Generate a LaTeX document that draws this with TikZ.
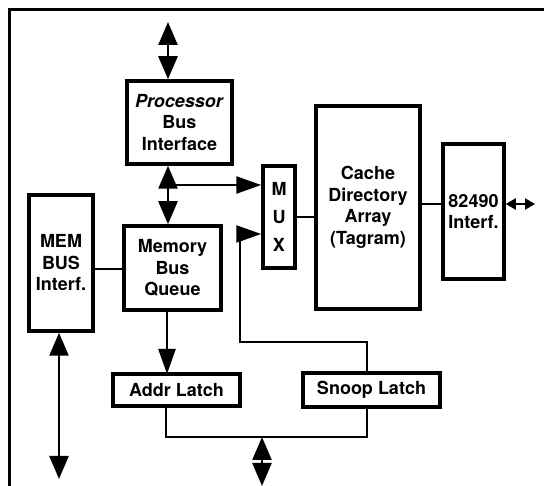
\documentclass[tikz,border=0pt]{standalone}
\usepackage{fontspec}
\setmainfont{TeX Gyre Heros}
\usetikzlibrary{arrows.meta}

\begin{document}
\begin{tikzpicture}[x=1pt,y=-1pt,
	block/.style={draw,line width=3.5pt,inner sep=0pt,align=center,
		font=\fontsize{18}{21.5}\selectfont\bfseries},
	wire/.style={line width=2.4pt},
	bigtips/.style={wire,{Triangle[length=23pt,width=19pt]}-{Triangle[length=23pt,width=19pt]}},
	bigtip/.style={wire,-{Triangle[length=25pt,width=17pt]}},
	smalltips/.style={wire,{Triangle[length=10pt,width=11pt]}-{Triangle[length=10pt,width=11pt]}}]
	\useasboundingbox (0,0) rectangle (544,486);
	% frame
	\draw [line width=3pt] (9,486) -- (9,10) -- (544,10);
	% blocks
	\node [block,minimum width=105pt,minimum height=83pt] (pbi) at (179.5,122.5)
		{\textit{Processor}\\Bus\\Interface};
	\node [block,minimum width=32pt,minimum height=102pt,
		font=\fontsize{18}{28}\selectfont\bfseries] (mux) at (279,217) {M\\U\\X};
	\node [block,minimum width=104pt,minimum height=203pt] (cda) at (368,207.5)
		{Cache\\Directory\\Array\\(Tagram)};
	\node [block,minimum width=61pt,minimum height=135pt] (ifc) at (473.5,211.5)
		{82490\\Interf.};
	\node [block,minimum width=64pt,minimum height=136pt] (mbi) at (61,263)
		{MEM\\BUS\\Interf.};
	\node [block,minimum width=97pt,minimum height=84pt] (mbq) at (172.5,268)
		{Memory\\Bus\\Queue};
	\node [block,minimum width=127pt,minimum height=32pt] (addr) at (176.5,390)
		{Addr Latch};
	\node [block,minimum width=137pt,minimum height=34pt] (snoop) at (371.5,390)
		{Snoop Latch};
	% connection points
	\coordinate (ptop) at (168,22);
	\coordinate (br) at (168,185);
	\coordinate (s1) at (367,342);
	\coordinate (s2) at (240,342);
	\coordinate (s3) at (240,234);
	\coordinate (c1) at (420,204);
	\coordinate (ext) at (535,204);
	\coordinate (mbot) at (59,479);
	\coordinate (b1) at (166,437);
	\coordinate (b2) at (367,437);
	\coordinate (d1) at (262,437);
	\coordinate (d2) at (262,486);
	% processor bus
	\draw [bigtips] (ptop) -- (ptop |- pbi.north);
	\draw [bigtips] (ptop |- pbi.south) -- (ptop |- mbq.north);
	\draw [bigtip] (br) -- (br -| mux.west);
	% snoop path
	\draw [bigtip] (s1 |- snoop.north) -- (s1) -- (s2) -- (s3) -- (s3 -| mux.west);
	\draw [wire] (mux.east) -- (mux.east -| cda.west);
	\draw [wire] (c1) -- (c1 -| ifc.west);
	\draw [smalltips] (c1 -| ifc.east) -- (ext);
	% memory side
	\draw [wire] (mbi.east |- 0,269) -- (mbq.west |- 0,269);
	\draw [bigtips] (mbot |- mbi.south) -- (mbot);
	\draw [bigtip] (167,310) -- (167,374);
	\draw [wire] (b1 |- addr.south) -- (b1) -- (b2) -- (b2 |- snoop.south);
	\draw [bigtips] (d1) -- (d2);
\end{tikzpicture}
\end{document}
